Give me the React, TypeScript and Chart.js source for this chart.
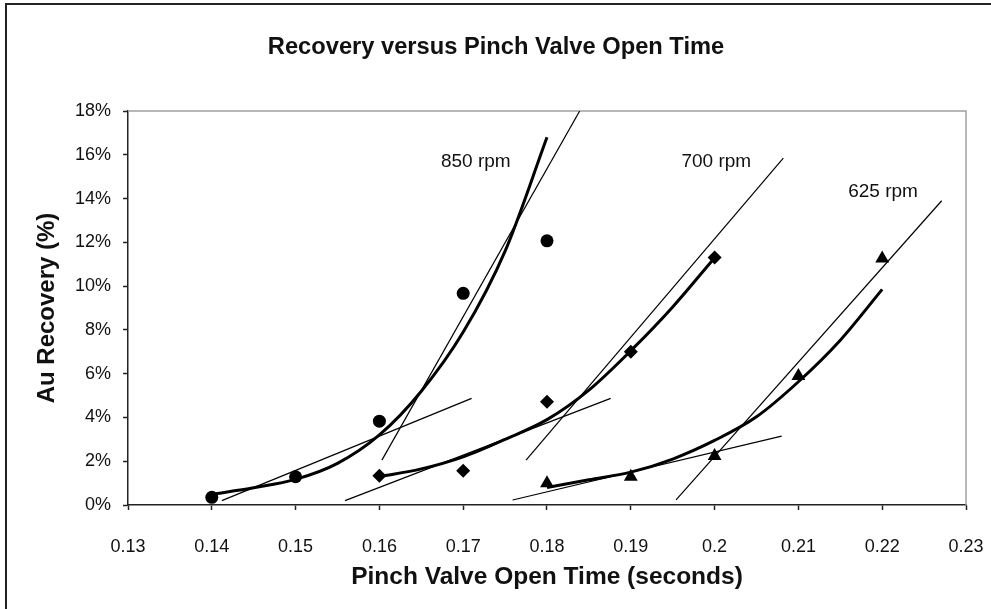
import React, { useEffect, useRef } from "react";
import { Chart, registerables } from "chart.js";

Chart.register(...registerables);

// ---- Data ----
const rpm850X = [0.14, 0.15, 0.16, 0.17, 0.18];
const rpm850Y = [0.35, 1.29, 3.83, 9.67, 12.07];
const rpm700X = [0.16, 0.17, 0.18, 0.19, 0.2];
const rpm700Y = [1.34, 1.57, 4.72, 7.0, 11.31];
const rpm625X = [0.18, 0.19, 0.2, 0.21, 0.22];
const rpm625Y = [0.99, 1.29, 2.24, 5.89, 11.26];

// fitted (thick) curves
const fit850X = [0.14, 0.145, 0.15, 0.155, 0.16, 0.165, 0.17, 0.175, 0.18];
const fit850Y = [0.49, 0.79, 1.17, 1.9, 3.2, 5.2, 7.9, 11.6, 16.8];
const fit700X = [0.16, 0.165, 0.17, 0.175, 0.18, 0.185, 0.19, 0.195, 0.2];
const fit700Y = [1.3, 1.65, 2.2, 3.0, 3.9, 5.25, 7.05, 9.05, 11.3];
const fit625X = [0.18, 0.185, 0.19, 0.195, 0.2, 0.205, 0.21, 0.215, 0.22];
const fit625Y = [0.8, 1.15, 1.5, 2.1, 2.95, 4.03, 5.63, 7.53, 9.85];

// thin tangent lines
const tan850aX = [0.1412, 0.171];
const tan850aY = [0.2, 4.87];
const tan850bX = [0.1603, 0.1839];
const tan850bY = [2.05, 18.0];
const tan700aX = [0.1559, 0.1876];
const tan700aY = [0.2, 4.87];
const tan700bX = [0.1775, 0.2082];
const tan700bY = [2.05, 15.85];
const tan625aX = [0.1759, 0.208];
const tan625aY = [0.23, 3.15];
const tan625bX = [0.1954, 0.2271];
const tan625bY = [0.23, 13.9];

// annotations
const rpmLabels = ["850 rpm", "700 rpm", "625 rpm"];
const rpmLabelX = [0.1715, 0.2002, 0.2201];
const rpmLabelY = [15.68, 15.68, 14.31];

// axes
const X_MIN = 0.13;
const X_MAX = 0.23;
const X_STEP = 0.01;
const Y_MIN = 0;
const Y_MAX = 18;
const Y_STEP = 2;

const TITLE = "Recovery versus Pinch Valve Open Time";
const X_TITLE = "Pinch Valve Open Time (seconds)";
const Y_TITLE = "Au Recovery (%)";

const FONT = "'Liberation Sans', Arial, Helvetica, sans-serif";

const pts = (xs: number[], ys: number[]) => xs.map((x, i) => ({ x, y: ys[i] }));

const decorPlugin = {
  id: "decor",
  beforeDraw(chart: any) {
    const { ctx, width, height } = chart;
    ctx.save();
    ctx.fillStyle = "#ffffff";
    ctx.fillRect(0, 0, width, height);
    ctx.strokeStyle = "#222222";
    ctx.lineWidth = 2;
    ctx.beginPath();
    ctx.moveTo(6, height);
    ctx.lineTo(6, 4);
    ctx.lineTo(width, 4);
    ctx.stroke();
    // chart title
    ctx.fillStyle = "#111111";
    ctx.font = `bold 23.7px ${FONT}`;
    ctx.textAlign = "center";
    ctx.textBaseline = "middle";
    ctx.fillText(TITLE, 496, 47);
    ctx.restore();
  },
  beforeDatasetsDraw(chart: any) {
    const { ctx, chartArea } = chart;
    ctx.save();
    ctx.strokeStyle = "#a0a0a0";
    ctx.lineWidth = 1.5;
    ctx.beginPath();
    ctx.moveTo(chartArea.left, chartArea.top);
    ctx.lineTo(chartArea.right, chartArea.top);
    ctx.lineTo(chartArea.right, chartArea.bottom);
    ctx.stroke();
    ctx.restore();
  },
  afterDatasetsDraw(chart: any) {
    const { ctx, scales } = chart;
    ctx.save();
    ctx.fillStyle = "#111111";
    ctx.font = `19px ${FONT}`;
    ctx.textAlign = "center";
    ctx.textBaseline = "middle";
    rpmLabels.forEach((t, i) => {
      ctx.fillText(t, scales.x.getPixelForValue(rpmLabelX[i]), scales.y.getPixelForValue(rpmLabelY[i]));
    });
    ctx.restore();
  },
};

export default function App() {
  const ref = useRef<HTMLCanvasElement | null>(null);
  useEffect(() => {
    document.body.style.margin = "0";
    const canvas = ref.current;
    if (!canvas) return;
    const marker = (label: string, data: any[], style: string, r: number) => ({
      label,
      data,
      showLine: false,
      pointStyle: style,
      pointRadius: r,
      pointBackgroundColor: "#000",
      pointBorderColor: "#000",
      pointBorderWidth: 0,
      order: 0,
    });
    const curve = (label: string, data: any[]) => ({
      label,
      data,
      showLine: true,
      borderColor: "#000",
      borderWidth: 3,
      pointRadius: 0,
      cubicInterpolationMode: "monotone",
      fill: false,
      order: 1,
    });
    const tangent = (label: string, data: any[]) => ({
      label,
      data,
      showLine: true,
      borderColor: "#000",
      borderWidth: 1.2,
      pointRadius: 0,
      tension: 0,
      fill: false,
      order: 2,
    });
    const chart = new Chart(canvas, {
      type: "scatter",
      data: {
        datasets: [
          marker("850 rpm", pts(rpm850X, rpm850Y), "circle", 6.5),
          marker("700 rpm", pts(rpm700X, rpm700Y), "rectRot", 7),
          marker("625 rpm", pts(rpm625X, rpm625Y), "triangle", 8),
          curve("850 fit", pts(fit850X, fit850Y)),
          curve("700 fit", pts(fit700X, fit700Y)),
          curve("625 fit", pts(fit625X, fit625Y)),
          tangent("850 a", pts(tan850aX, tan850aY)),
          tangent("850 b", pts(tan850bX, tan850bY)),
          tangent("700 a", pts(tan700aX, tan700aY)),
          tangent("700 b", pts(tan700bX, tan700bY)),
          tangent("625 a", pts(tan625aX, tan625aY)),
          tangent("625 b", pts(tan625bX, tan625bY)),
        ] as any,
      },
      options: {
        responsive: false,
        animation: false,
        layout: { padding: { left: 0, top: 111, right: 25, bottom: 0 } },
        plugins: {
          legend: { display: false },
          tooltip: { enabled: false },
          title: { display: false },
        },
        scales: {
          x: {
            type: "linear",
            min: X_MIN,
            max: X_MAX,
            afterFit: (s: any) => {
              s.height = 104;
              s.paddingLeft = 0;
              s.paddingRight = 0;
            },
            ticks: {
              stepSize: X_STEP,
              color: "#111",
              padding: 26,
              font: { family: FONT, size: 18 },
              callback: (v: any) => parseFloat(Number(v).toFixed(2)).toString(),
            },
            grid: { drawOnChartArea: false, drawTicks: true, tickLength: 5, tickColor: "#222", tickWidth: 1.5 },
            border: { color: "#222", width: 1.5 },
            title: {
              display: true,
              text: X_TITLE,
              color: "#111",
              font: { family: FONT, size: 24.5, weight: "bold" },
              padding: { top: 0, bottom: 17 },
            },
          },
          y: {
            type: "linear",
            min: Y_MIN,
            max: Y_MAX,
            afterFit: (s: any) => {
              s.width = 128;
            },
            ticks: {
              stepSize: Y_STEP,
              color: "#111",
              padding: 12,
              font: { family: FONT, size: 18 },
              callback: (v: any) => `${Math.round(Number(v))}%`,
            },
            grid: { drawOnChartArea: false, drawTicks: true, tickLength: 5, tickColor: "#222", tickWidth: 1.5 },
            border: { color: "#222", width: 1.5 },
            title: {
              display: true,
              text: Y_TITLE,
              color: "#111",
              font: { family: FONT, size: 24, weight: "bold" },
              padding: { top: 33, bottom: 0 },
            },
          },
        },
      } as any,
      plugins: [decorPlugin],
    });
    return () => chart.destroy();
  }, []);
  return (
    <div style={{ width: 991, height: 609, position: "relative" }}>
      <canvas ref={ref} width={991} height={609} style={{ display: "block" }} />
    </div>
  );
}
